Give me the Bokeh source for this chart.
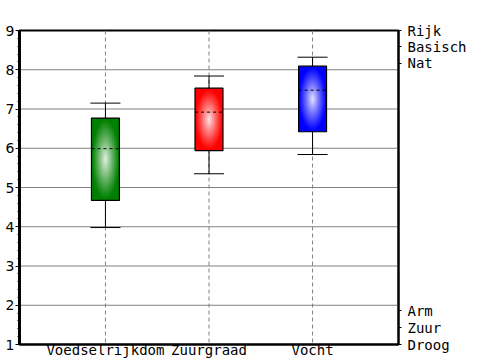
from bokeh.plotting import figure
from bokeh.models import FixedTicker, LinearAxis, Range1d, Span
from bokeh.embed import file_html
from bokeh.resources import INLINE

categories = ["Voedselrijkdom", "Zuurgraad", "Vocht"]
whisker_low = [3.98, 5.35, 5.84]
q1 = [4.67, 5.94, 6.42]
median = [5.99, 6.92, 7.48]
q3 = [6.77, 7.53, 8.09]
whisker_high = [7.15, 7.84, 8.32]
box_colors = [(0, 128, 0), (255, 0, 0), (0, 0, 255)]
right_tick_values = [9.0, 8.58, 8.17, 1.86, 1.43, 1.0]
right_tick_labels = ["Rijk", "Basisch", "Nat", "Arm", "Zuur", "Droog"]

xs = [i + 1 for i in range(len(categories))]

p = figure(width=500, height=360, output_backend="svg", toolbar_location=None,
           x_range=Range1d(0.17, 3.83), y_range=Range1d(1, 9),
           min_border_left=19, min_border_right=102, min_border_top=30, min_border_bottom=14,
           background_fill_color="white", border_fill_color="white")
p.outline_line_color = "black"
p.outline_line_width = 2
p.xgrid.grid_line_color = None
p.ygrid.grid_line_color = None

# grid lines
for yv in range(2, 9):
    p.add_layout(Span(location=yv, dimension="width", line_color="#808080", line_width=1.2, level="underlay"))
for xv in xs:
    p.add_layout(Span(location=xv, dimension="height", line_color="#808080", line_width=1,
                      line_dash="4 3", level="underlay"))

bw = 0.27
cw = 0.29
# whiskers
p.segment(x0=xs, y0=whisker_low, x1=xs, y1=q1, line_color="black", line_width=1)
p.segment(x0=xs, y0=q3, x1=xs, y1=whisker_high, line_color="black", line_width=1)
p.segment(x0=[x - cw / 2 for x in xs], y0=whisker_low, x1=[x + cw / 2 for x in xs], y1=whisker_low, line_color="black", line_width=1)
p.segment(x0=[x - cw / 2 for x in xs], y0=whisker_high, x1=[x + cw / 2 for x in xs], y1=whisker_high, line_color="black", line_width=1)

def mix(c, t):
    return "#%02x%02x%02x" % tuple(int(round(ci + (255 - ci) * t)) for ci in c)

# boxes with radial gradient
for x, lo, hi, c in zip(xs, q1, q3, box_colors):
    h = hi - lo
    yc = (lo + hi) / 2
    p.rect(x=[x], y=[yc], width=bw, height=h, fill_color=mix(c, 0), line_color=None)
    n = 30
    for k in range(n):
        s = 1 - k / n
        t = 0.9 * (1 - s) ** 1.1
        p.ellipse(x=[x], y=[yc], width=bw * s, height=h * s, fill_color=mix(c, t), line_color=None)
    p.rect(x=[x], y=[yc], width=bw, height=h, fill_color=None, line_color="black", line_width=1.2)

# medians
p.segment(x0=[x - bw / 2 for x in xs], y0=median, x1=[x + bw / 2 for x in xs], y1=median,
          line_color="black", line_width=1, line_dash="3 3")

# left axis
p.yaxis.ticker = FixedTicker(ticks=list(range(1, 10)), minor_ticks=[1 + i * 0.2 for i in range(41)])
p.yaxis.axis_line_width = 3
p.yaxis.axis_line_color = "black"
p.yaxis.major_tick_out = 4
p.yaxis.major_tick_in = 0
p.yaxis.minor_tick_out = 2
p.yaxis.minor_tick_in = 0
p.yaxis.major_label_standoff = 1
p.yaxis.major_label_text_font = "DejaVu Sans"
p.yaxis.major_label_text_font_size = "14px"
p.yaxis.major_label_text_color = "black"

# bottom axis
p.xaxis.ticker = FixedTicker(ticks=xs)
p.xaxis.major_label_overrides = {x: c for x, c in zip(xs, categories)}
p.xaxis.axis_line_width = 2
p.xaxis.major_tick_out = 0
p.xaxis.major_tick_in = 0
p.xaxis.minor_tick_line_color = None
p.xaxis.major_label_standoff = -3
p.xaxis.major_label_text_font = "DejaVu Sans Mono"
p.xaxis.major_label_text_font_size = "14px"
p.xaxis.major_label_text_color = "black"

ra = LinearAxis(ticker=FixedTicker(ticks=right_tick_values))
ra.major_label_overrides = {v: l for v, l in zip(right_tick_values, right_tick_labels)}
ra.axis_line_width = 2
ra.major_tick_out = 3
ra.major_tick_in = 0
ra.minor_tick_line_color = None
ra.major_label_standoff = 6
ra.major_label_text_font = "DejaVu Sans Mono"
ra.major_label_text_font_size = "14px"
ra.major_label_text_color = "black"
p.add_layout(ra, "right")

open("out.html", "w").write(file_html(p, INLINE))
